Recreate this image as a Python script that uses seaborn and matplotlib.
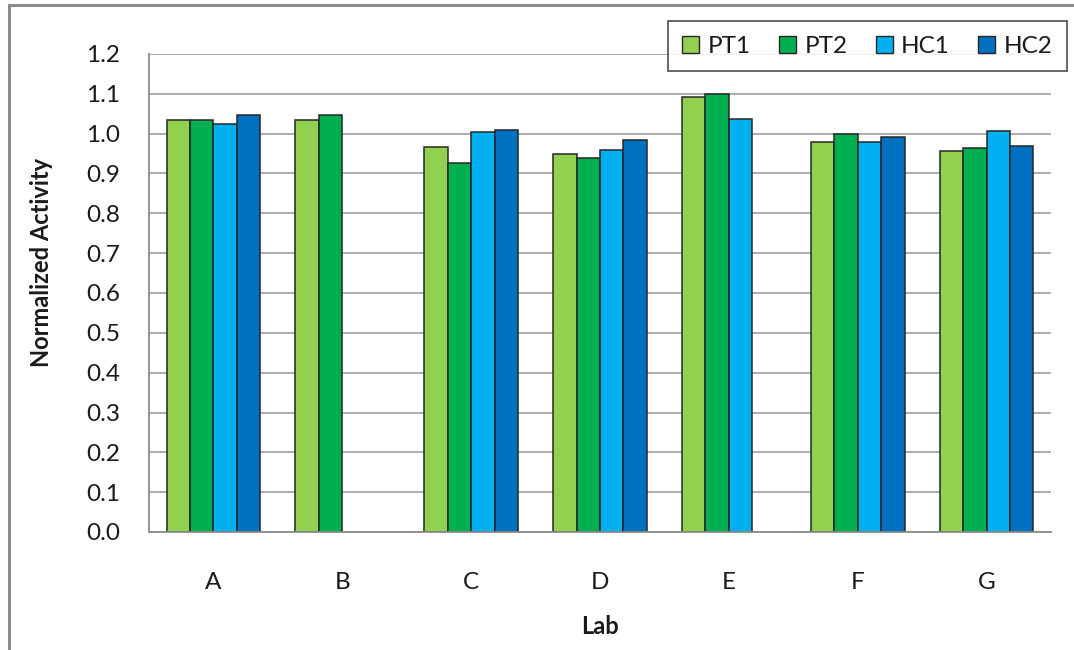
import numpy as np
import pandas as pd
import matplotlib
matplotlib.use("Agg")
import matplotlib.pyplot as plt
import seaborn as sns
from matplotlib.patches import Patch, Rectangle
from matplotlib.ticker import FixedLocator, MultipleLocator, FormatStrFormatter

# Normalized activity per lab for each sample
labs = ["A", "B", "C", "D", "E", "F", "G"]
series = ["PT1", "PT2", "HC1", "HC2"]
pt1 = [1.035, 1.035, 0.967, 0.949, 1.092, 0.978, 0.956]
pt2 = [1.035, 1.047, 0.927, 0.938, 1.099, 1.000, 0.963]
hc1 = [1.025, np.nan, 1.003, 0.959, 1.038, 0.978, 1.007]
hc2 = [1.046, np.nan, 1.009, 0.985, np.nan, 0.992, 0.970]
colors = ["#92D050", "#00B050", "#00B0F0", "#0070C0"]

rows = []
for name, vals in zip(series, [pt1, pt2, hc1, hc2]):
    for lab, v in zip(labs, vals):
        if not np.isnan(v):
            rows.append({"Lab": lab, "Series": name, "Activity": v})
df = pd.DataFrame(rows)

sns.set_style("white")
plt.rcParams["font.family"] = ["Lato", "DejaVu Sans"]

W, H = 1074, 650
fig = plt.figure(figsize=(W / 100, H / 100), dpi=100)
ax = fig.add_axes([149 / W, 1 - 532 / H, (1051 - 149) / W, (532 - 54) / H])

sns.barplot(data=df, x="Lab", y="Activity", hue="Series", order=labs,
            hue_order=series, palette=colors, width=0.727, saturation=1,
            edgecolor="#262626", linewidth=1.1, errorbar=None,
            legend=False, ax=ax)

axis_grey = "#8C8C8C"
text_col = "#1a1a1a"
ax.set_xlim(-0.5, len(labs) - 0.5)
ax.set_ylim(0, 1.2)
ax.yaxis.set_major_locator(MultipleLocator(0.1))
ax.yaxis.set_major_formatter(FormatStrFormatter("%.1f"))
ax.yaxis.grid(True, color="#A6A6A6", linewidth=1.3)
ax.set_axisbelow(True)

for side in ["top", "right"]:
    ax.spines[side].set_visible(False)
for side in ["left", "bottom"]:
    ax.spines[side].set_color(axis_grey)
    ax.spines[side].set_linewidth(1.3)

# category boundaries marked with minor ticks
ax.xaxis.set_minor_locator(FixedLocator(np.arange(-0.5, len(labs), 1.0)))
ax.tick_params(axis="x", which="major", length=0, pad=29, labelsize=17.5,
               labelcolor=text_col)
ax.tick_params(axis="x", which="minor", length=11, width=1.3,
               color=axis_grey, direction="out")
ax.tick_params(axis="y", which="major", length=9, width=1.3, color=axis_grey,
               direction="out", pad=12, labelsize=17.5, labelcolor=text_col)

ax.set_xlabel("Lab", fontsize=17, fontweight="bold", color=text_col)
ax.set_ylabel("Normalized Activity", fontsize=17, fontweight="bold",
              color=text_col)
ax.xaxis.label.set_va("center")
ax.xaxis.set_label_coords(0.5, (532 - 627) / 478)
ax.yaxis.label.set_va("center")
ax.yaxis.set_label_coords((41 - 149) / 902, (532 - 262) / 478)

handles = [Patch(facecolor=c, edgecolor="#262626", linewidth=1.0, label=s)
           for s, c in zip(series, colors)]
leg = fig.legend(handles=handles, loc="upper right", ncol=4,
                 bbox_to_anchor=(1067 / W, 1 - 21 / H), borderaxespad=0,
                 frameon=True, fancybox=False, fontsize=17.5,
                 handlelength=0.7, handleheight=0.7, handletextpad=0.35,
                 columnspacing=1.15, borderpad=0.6)
leg.get_frame().set_edgecolor("#404040")
leg.get_frame().set_linewidth(1.4)
for t in leg.get_texts():
    t.set_color(text_col)

# outer chart border
fig.add_artist(Rectangle((9 / W, -0.1), 1.2, 1 - 5 / H + 0.1,
                         transform=fig.transFigure, fill=False,
                         edgecolor="#8C8C8C", linewidth=2.2))

fig.savefig("out.png", dpi=100)
